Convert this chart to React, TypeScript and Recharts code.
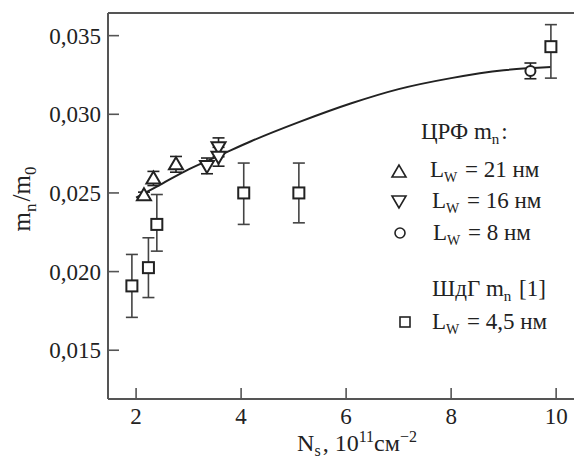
import {
  ComposedChart,
  Scatter,
  Line,
  XAxis,
  YAxis,
  ErrorBar,
  ReferenceLine,
} from "recharts";

const FONT = "'Liberation Serif', 'Times New Roman', serif";
const INK = "#222";
const AXIS = "#555";

const X_MIN = 1.465;
const X_MAX = 10.34;
const Y_MIN = 0.0119;
const Y_MAX = 0.03644;

const xTicks = [2, 4, 6, 8, 10];
const yTicks = [0.015, 0.02, 0.025, 0.03, 0.035];

// ЦРФ, L_w = 21 нм
const lw21X = [2.15, 2.33, 2.76];
const lw21Y = [0.02485, 0.02592, 0.02682];
const lw21Err = [0.0002, 0.00045, 0.0005];

// ЦРФ, L_w = 16 нм
const lw16X = [3.35, 3.57, 3.57];
const lw16Y = [0.02672, 0.0279, 0.0273];
const lw16Err = [0.0005, 0.0006, 0.0006];

// ЦРФ, L_w = 8 нм
const lw8X = [9.51];
const lw8Y = [0.03276];
const lw8Err = [0.0005];

// ШдГ [1], L_w = 4,5 нм
const sqX = [1.92, 2.235, 2.395, 4.05, 5.1, 9.9];
const sqY = [0.01909, 0.02025, 0.023, 0.025, 0.025, 0.0343];
const sqErrLow = [0.002, 0.0019, 0.0017, 0.002, 0.0019, 0.002];
const sqErrHigh = [0.002, 0.0019, 0.0019, 0.0019, 0.0019, 0.0014];

// fitted curve
const fitX = [2.0, 2.5, 3.0, 3.6, 4.2, 5.1, 6.1, 7.0, 8.0, 9.0, 9.9];
const fitY = [0.0247, 0.0256, 0.0265, 0.0274, 0.0283, 0.0295, 0.0307, 0.0316, 0.0323, 0.0328, 0.033];

const lw21 = lw21X.map((x, i) => ({ x, y: lw21Y[i], err: lw21Err[i] }));
const lw16 = lw16X.map((x, i) => ({ x, y: lw16Y[i], err: lw16Err[i] }));
const lw8 = lw8X.map((x, i) => ({ x, y: lw8Y[i], err: lw8Err[i] }));
const sq = sqX.map((x, i) => ({ x, y: sqY[i], err: [sqErrLow[i], sqErrHigh[i]] }));
const fit = fitX.map((x, i) => ({ x, y: fitY[i] }));

const TriUp = ({ cx, cy }: any) => (
  <polygon
    points={`${cx},${cy - 7} ${cx - 7},${cy + 5} ${cx + 7},${cy + 5}`}
    fill="#fff"
    stroke={INK}
    strokeWidth={2}
  />
);

const TriDown = ({ cx, cy }: any) => (
  <polygon
    points={`${cx},${cy + 7} ${cx - 7},${cy - 5} ${cx + 7},${cy - 5}`}
    fill="#fff"
    stroke={INK}
    strokeWidth={2}
  />
);

const Circ = ({ cx, cy }: any) => (
  <circle cx={cx} cy={cy} r={5} fill="#fff" stroke={INK} strokeWidth={2} />
);

const Sq = ({ cx, cy }: any) => (
  <rect x={cx - 5.5} y={cy - 5.5} width={11} height={11} fill="#fff" stroke={INK} strokeWidth={2} />
);

const XTick = ({ x, y, payload }: any) => (
  <g>
    <line x1={x} x2={x} y1={y} y2={y - 11} stroke={AXIS} strokeWidth={1.6} />
    <text x={x} y={y + 25} textAnchor="middle" fontFamily={FONT} fontSize={23} fill={INK}>
      {payload.value}
    </text>
  </g>
);

const YTick = ({ x, y, payload }: any) => (
  <g>
    <line x1={x} x2={x + 11} y1={y} y2={y} stroke={AXIS} strokeWidth={1.6} />
    <text x={x - 7} y={y + 8} textAnchor="end" fontFamily={FONT} fontSize={23} fill={INK}>
      {payload.value.toFixed(3).replace(".", ",")}
    </text>
  </g>
);

const sub = (t: string, size = 15, shift = 5) => [
  <tspan key="a" dy={shift} fontSize={size}>{t}</tspan>,
  <tspan key="b" dy={-shift}>{"\u200A"}</tspan>,
];

function Legend() {
  return (
    <svg
      width={574}
      height={459}
      style={{ position: "absolute", left: 0, top: 0, pointerEvents: "none" }}
      fontFamily={FONT}
      fill={INK}
    >
      <text x={421} y={139} fontSize={23}>
        ЦРФ m{sub("n")}:
      </text>
      <polygon points="399,165 392,177 406,177" fill="none" stroke={INK} strokeWidth={1.6} />
      <text x={430} y={177} fontSize={23}>
        L{sub("W", 14)} = 21 нм
      </text>
      <polygon points="399,208 392,196 406,196" fill="none" stroke={INK} strokeWidth={1.6} />
      <text x={432} y={208} fontSize={23}>
        L{sub("W", 14)} = 16 нм
      </text>
      <circle cx={400} cy={233} r={5} fill="none" stroke={INK} strokeWidth={1.6} />
      <text x={433} y={240} fontSize={23}>
        L{sub("W", 14)} = 8 нм
      </text>
      <text x={432} y={296} fontSize={23}>
        ШдГ m{sub("n")} [1]
      </text>
      <rect x={400} y={317} width={10} height={10} fill="none" stroke={INK} strokeWidth={1.6} />
      <text x={432} y={329} fontSize={23}>
        L{sub("W", 14)} = 4,5 нм
      </text>

      <text x={357} y={451} textAnchor="middle" fontSize={24}>
        N{sub("s", 16, 5)}, 10
        <tspan dy={-9} fontSize={16}>11</tspan>
        <tspan dy={9}>см</tspan>
        <tspan dy={-9} fontSize={16}>−2</tspan>
      </text>

      <text
        x={0}
        y={0}
        transform="translate(30,198) rotate(-90)"
        textAnchor="middle"
        fontSize={25}
      >
        m{sub("n", 17, 6)}/m{sub("0", 17, 6)}
      </text>
    </svg>
  );
}

export default function App() {
  return (
    <div style={{ position: "absolute", left: 0, top: 0, width: 574, height: 459, background: "#fff" }}>
      <ComposedChart width={574} height={459} margin={{ top: 13, right: 0, bottom: 0, left: 0 }}>
        <XAxis
          type="number"
          dataKey="x"
          domain={[X_MIN, X_MAX]}
          allowDataOverflow
          ticks={xTicks}
          height={60}
          tickSize={0}
          tickMargin={0}
          tickLine={false}
          axisLine={{ stroke: AXIS, strokeWidth: 2 }}
          tick={<XTick />}
        />
        <YAxis
          type="number"
          dataKey="y"
          domain={[Y_MIN, Y_MAX]}
          allowDataOverflow
          ticks={yTicks}
          width={108}
          tickSize={0}
          tickMargin={0}
          tickLine={false}
          axisLine={{ stroke: AXIS, strokeWidth: 2 }}
          tick={<YTick />}
        />
        <ReferenceLine y={Y_MAX} stroke={AXIS} strokeWidth={2} />
        <Line
          data={fit}
          dataKey="y"
          type="monotone"
          stroke={INK}
          strokeWidth={2}
          dot={false}
          activeDot={false}
          isAnimationActive={false}
        />
        <Scatter data={sq} shape={<Sq />} isAnimationActive={false}>
          <ErrorBar dataKey="err" direction="y" width={6} stroke="#444" strokeWidth={1.6} />
        </Scatter>
        <Scatter data={lw21} shape={<TriUp />} isAnimationActive={false}>
          <ErrorBar dataKey="err" direction="y" width={6} stroke={INK} strokeWidth={1.6} />
        </Scatter>
        <Scatter data={lw16} shape={<TriDown />} isAnimationActive={false}>
          <ErrorBar dataKey="err" direction="y" width={6} stroke={INK} strokeWidth={1.6} />
        </Scatter>
        <Scatter data={lw8} shape={<Circ />} isAnimationActive={false}>
          <ErrorBar dataKey="err" direction="y" width={6} stroke={INK} strokeWidth={1.6} />
        </Scatter>
      </ComposedChart>
      <Legend />
    </div>
  );
}
